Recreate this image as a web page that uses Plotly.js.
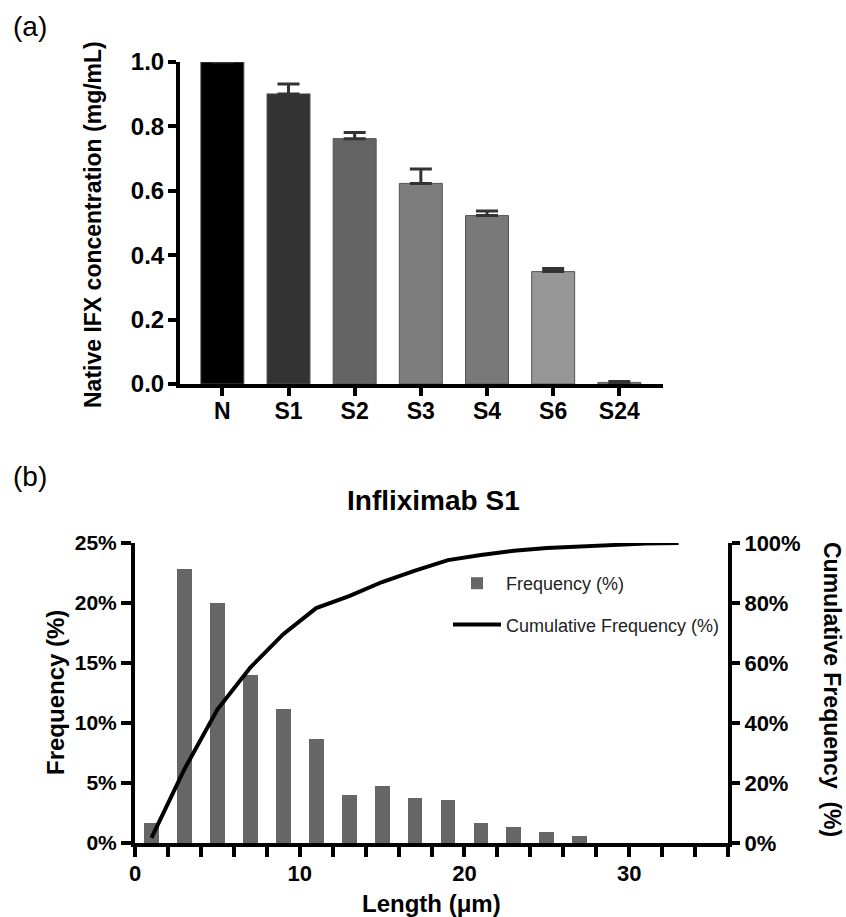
<!DOCTYPE html>
<html>
<head>
<meta charset="utf-8">
<script src="https://cdn.plot.ly/plotly-3.0.1.min.js"></script>
<style>html,body{margin:0;padding:0;background:#fff;}#chart{width:846px;height:917px;}</style>
</head>
<body>
<div id="chart"></div>
<script>
// ---------- Panel (a) data ----------
const sampleNames = ['N', 'S1', 'S2', 'S3', 'S4', 'S6', 'S24'];
const nativeConc = [1.0, 0.901, 0.762, 0.623, 0.523, 0.349, 0.005];
const nativeErr = [0, 0.031, 0.019, 0.045, 0.014, 0.010, 0.003];

// ---------- Panel (b) data ----------
const lengthBins = [1, 3, 5, 7, 9, 11, 13, 15, 17, 19, 21, 23, 25, 27];
const freqPct = [1.7, 22.85, 19.98, 13.97, 11.13, 8.68, 3.98, 4.73, 3.76, 3.56, 1.70, 1.31, 0.95, 0.56];
const cumLength = [1, 3, 5, 7, 9, 11, 13, 15, 17, 19, 21, 23, 25, 27, 29, 31, 33];
const cumPct = [1.7, 24.6, 44.5, 58.5, 69.6, 78.3, 82.3, 87.0, 90.8, 94.3, 96.0, 97.4, 98.3, 98.9, 99.4, 99.8, 100];

// ---------- styles ----------
const barGreys = ['#000000', '#333333', '#646464', '#7d7d7d', '#797979', '#969696', '#888888'];
const W = 846, H = 917;
const px = v => v / W;
const py = v => 1 - v / H;
const FONT = 'Liberation Sans, Arial, Helvetica, sans-serif';
const boldTick = {family: FONT, size: 22, color: '#000', weight: 'bold'};

const traces = [
  {
    type: 'bar', x: sampleNames, y: nativeConc, xaxis: 'x', yaxis: 'y',
    width: 0.65,
    marker: {color: barGreys, line: {color: '#555', width: 1}},
    error_y: {type: 'data', array: nativeErr, arrayminus: nativeErr.map(() => 0), symmetric: false,
              color: '#333', thickness: 3, width: 11},
    showlegend: false, hoverinfo: 'skip'
  },
  {
    type: 'bar', x: lengthBins, y: freqPct, xaxis: 'x2', yaxis: 'y2',
    width: 0.9, name: 'Frequency (%)', legendgroup: 'f',
    marker: {color: '#666666', line: {width: 0}}
  },
  {
    type: 'scatter', mode: 'lines', x: cumLength, y: cumPct, xaxis: 'x2', yaxis: 'y3',
    name: 'Cumulative Frequency (%)', legendgroup: 'c',
    line: {color: '#000', width: 4}
  }
];

const axisCommon = {
  showgrid: false, zeroline: false, showline: true, linecolor: '#000', linewidth: 4,
  ticks: 'outside', tickcolor: '#000', tickwidth: 4, ticklen: 9, tickfont: boldTick, fixedrange: true
};

const layout = {
  width: W, height: H,
  margin: {l: 0, r: 0, t: 0, b: 0},
  paper_bgcolor: '#fff', plot_bgcolor: '#fff',
  font: {family: FONT, color: '#000'},
  bargap: 0,
  xaxis: Object.assign({}, axisCommon, {
    domain: [px(180), px(663)], anchor: 'y', type: 'category', range: [-0.64, 6.66],
    tickfont: {family: FONT, size: 23, color: '#000', weight: 'bold'}, ticklen: 8, ticklabelstandoff: -5
  }),
  yaxis: Object.assign({}, axisCommon, {
    domain: [py(384), py(62)], anchor: 'x', range: [0, 1.0], dtick: 0.2, tickformat: '.1f',
    tickfont: {family: FONT, size: 24, color: '#000', weight: 'bold'}, ticklen: 8, ticklabelstandoff: -1
  }),
  xaxis2: Object.assign({}, axisCommon, {
    domain: [px(135), px(728)], anchor: 'y2', range: [0, 36], dtick: 10, tick0: 0, ticklen: 10,
    ticklabelstandoff: -2,
    minor: {dtick: 2, ticks: 'outside', ticklen: 10, tickwidth: 4, tickcolor: '#000', showgrid: false}
  }),
  yaxis2: Object.assign({}, axisCommon, {
    domain: [py(843), py(543)], anchor: 'x2', range: [0, 25], dtick: 5, ticksuffix: '%', ticklen: 10,
    tickfont: {family: FONT, size: 21, color: '#000', weight: 'bold'}
  }),
  yaxis3: Object.assign({}, axisCommon, {
    overlaying: 'y2', side: 'right', anchor: 'x2', range: [0, 100], dtick: 20, ticksuffix: '%', ticklen: 8
  }),
  legend: {
    x: px(448), y: py(565), xanchor: 'left', yanchor: 'top',
    bgcolor: 'rgba(0,0,0,0)', borderwidth: 0,
    font: {family: FONT, size: 18, color: '#222'},
    traceorder: 'grouped', tracegroupgap: 15, itemwidth: 48
  },
  annotations: [
    {text: '(a)', x: px(11), y: py(27), xref: 'paper', yref: 'paper', xanchor: 'left', yanchor: 'middle',
     showarrow: false, font: {family: FONT, size: 28, color: '#000'}},
    {text: '(b)', x: px(11), y: py(477), xref: 'paper', yref: 'paper', xanchor: 'left', yanchor: 'middle',
     showarrow: false, font: {family: FONT, size: 28, color: '#000'}},
    {text: 'Native IFX concentration (mg/mL)', x: px(93), y: py(225), xref: 'paper', yref: 'paper',
     xanchor: 'center', yanchor: 'middle', textangle: -90, showarrow: false,
     font: {family: FONT, size: 23, color: '#000', weight: 'bold'}},
    {text: 'Infliximab S1', x: px(433), y: py(501), xref: 'paper', yref: 'paper',
     xanchor: 'center', yanchor: 'middle', showarrow: false,
     font: {family: FONT, size: 28, color: '#000', weight: 'bold'}},
    {text: 'Frequency (%)', x: px(55), y: py(693), xref: 'paper', yref: 'paper',
     xanchor: 'center', yanchor: 'middle', textangle: -90, showarrow: false,
     font: {family: FONT, size: 24, color: '#000', weight: 'bold'}},
    {text: 'Cumulative Frequency  (%)', x: px(832), y: py(689), xref: 'paper', yref: 'paper',
     xanchor: 'center', yanchor: 'middle', textangle: 90, showarrow: false,
     font: {family: FONT, size: 23, color: '#000', weight: 'bold'}},
    {text: 'Length (\u03bcm)', x: px(432), y: py(903), xref: 'paper', yref: 'paper',
     xanchor: 'center', yanchor: 'middle', showarrow: false,
     font: {family: FONT, size: 24, color: '#000', weight: 'bold'}}
  ]
};

Plotly.newPlot('chart', traces, layout, {displayModeBar: false, staticPlot: true});
</script>
</body>
</html>
